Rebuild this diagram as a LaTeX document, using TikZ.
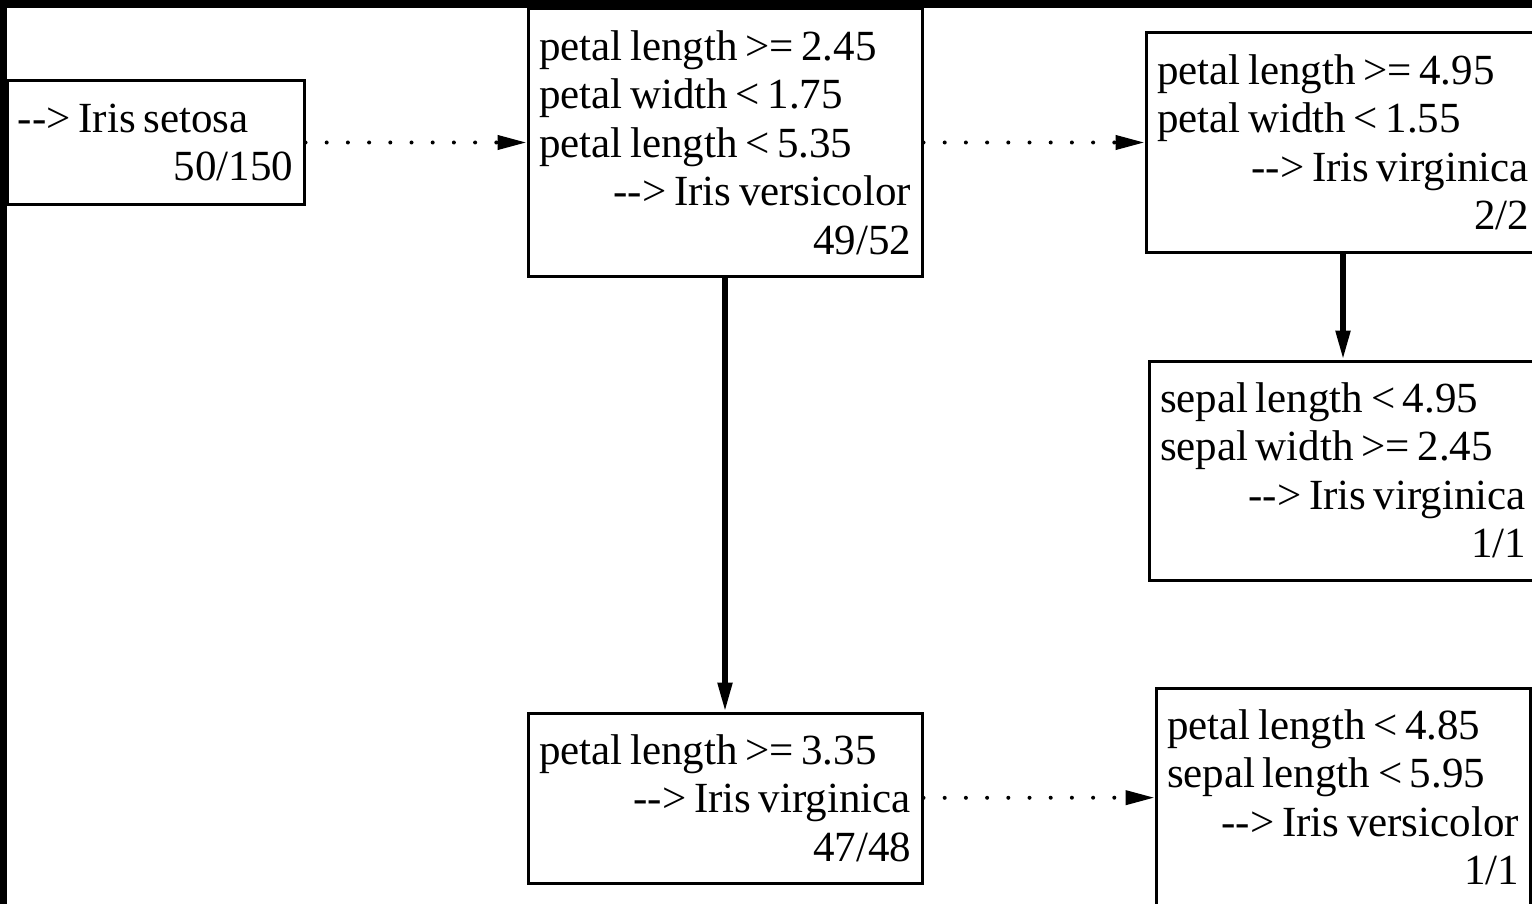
\documentclass[tikz,border=0pt]{standalone}
\usepackage{fontspec}
\setmainfont{Liberation Serif}
\usepackage{tikz}
\usetikzlibrary{arrows.meta}

\begin{document}
\begin{tikzpicture}[x=0.5pt,y=-0.5pt,>={Triangle[length=14.5pt,width=7pt]},
  rulebox/.style={draw, line width=1.5pt, inner xsep=5.5pt, align=left,
    font=\fontsize{21.5pt}{24.25pt}\selectfont,
    execute at begin node={\spaceskip=3.8pt\relax}},
  dotlink/.style={->, line width=2pt, line cap=round, dash pattern=on 0pt off 10.6pt},
  solidlink/.style={->, line width=2.6pt}]
\useasboundingbox (0,0) rectangle (1532,904);
\path[clip] (0,0) rectangle (1532,904);
\fill[black] (0,0) rectangle (1532,8);
\fill[black] (0,0) rectangle (7,904);

\node[rulebox, text width=137.5pt, minimum height=61.5pt] (setosa) at (155.5,142.5)
  {-{}-> Iris setosa\\ \hfill 50/150};
\node[rulebox, text width=186pt, minimum height=133.5pt] (versA) at (725,142.5)
  {petal length >= 2.45\\ petal width < 1.75\\ petal length < 5.35\\
   \hfill -{}-> Iris versicolor\\ \hfill 49/52};
\node[rulebox, text width=186pt, minimum height=109.5pt] (virgA) at (1343,142.5)
  {petal length >= 4.95\\ petal width < 1.55\\ \hfill -{}-> Iris virginica\\ \hfill 2/2};
\node[rulebox, text width=183pt, minimum height=109.5pt] (virgB) at (1343,470.5)
  {sepal length < 4.95\\ sepal width >= 2.45\\ \hfill -{}-> Iris virginica\\ \hfill 1/1};
\node[rulebox, text width=186pt, minimum height=85pt] (virgC) at (725,798)
  {petal length >= 3.35\\ \hfill -{}-> Iris virginica\\ \hfill 47/48};
\node[rulebox, text width=176pt, minimum height=109.5pt] (versB) at (1343,797.5)
  {petal length < 4.85\\ sepal length < 5.95\\ \hfill -{}-> Iris versicolor\\ \hfill 1/1};

\draw[dotlink] (setosa) -- (versA);
\draw[dotlink] (versA) -- (virgA);
\draw[dotlink] (virgC) -- (versB);
\draw[solidlink] (versA) -- (virgC);
\draw[solidlink] (virgA) -- (virgB);
\end{tikzpicture}
\end{document}
